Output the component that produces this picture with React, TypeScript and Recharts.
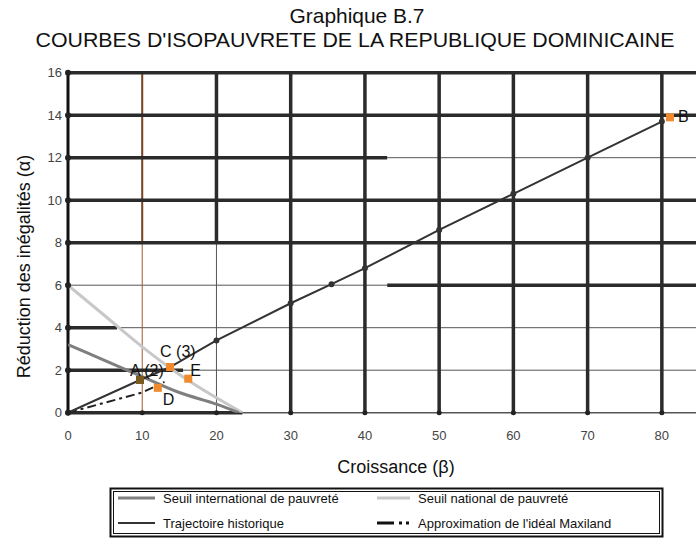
import React from 'react';
import { ComposedChart, Line, Scatter, XAxis, YAxis, ReferenceLine } from 'recharts';

// ---- data ----
const xTicks = [0, 10, 20, 30, 40, 50, 60, 70, 80];
const yTicks = [0, 2, 4, 6, 8, 10, 12, 14, 16];

const intlX = [0, 5, 10, 15, 20, 23];
const intlY = [3.2, 2.45, 1.7, 0.95, 0.4, 0];

const natX = [0, 5, 10, 15, 20, 23.5];
const natY = [6, 4.55, 3.1, 1.8, 0.7, 0];

const histX = [0, 9.7, 13.75, 20, 30, 35.5, 40, 50, 60, 70, 80];
const histY = [0, 1.54, 2.15, 3.4, 5.15, 6.05, 6.8, 8.6, 10.3, 12.0, 13.7];

const maxiX = [0, 10, 13];
const maxiY = [0, 0.95, 1.45];

const pointNames = ['A (2)', 'C (3)', 'D', 'E', 'B'];
const pointX = [9.7, 13.75, 12.1, 16.2, 81.1];
const pointY = [1.54, 2.15, 1.17, 1.6, 13.9];

const seriesNames = [
  'Seuil international de pauvreté',
  'Seuil national de pauvreté',
  'Trajectoire historique',
  "Approximation de l'idéal Maxiland",
];

const titleLines = ['Graphique B.7', "COURBES D'ISOPAUVRETE DE LA REPUBLIQUE DOMINICAINE"];
const xLabel = 'Croissance (β)';
const yLabel = 'Réduction des inégalités (α)';

// ---- build ----
const zip = (xs: number[], ys: number[]) => xs.map((x, i) => ({ x, y: ys[i] }));
const intlData = zip(intlX, intlY);
const natData = zip(natX, natY);
const histData = zip(histX, histY);
const maxiData = zip(maxiX, maxiY);
const pointData = pointNames.map((name, i) => ({ name, x: pointX[i], y: pointY[i] }));

// ---- styles ----
const FONT = '"Liberation Sans", Arial, sans-serif';
const THICK = '#2b2b2b';
const THIN = '#555';
const labelOffset: Record<string, [number, number]> = {
  'A (2)': [-10, -4],
  'C (3)': [-10, -10],
  D: [5, 17],
  E: [2, -3],
  B: [8, 5],
};
const pointColor: Record<string, string> = {
  'A (2)': '#7a5a1e',
  'C (3)': '#f08a2c',
  D: '#f08a2c',
  E: '#f08a2c',
  B: '#f08a2c',
};

const XTick = (props: any) => {
  const { x, y, payload } = props;
  return (
    <g>
      <circle cx={x} cy={y} r={2.5} fill="#222" />
      <text x={x} y={y + 27} textAnchor="middle" fontSize={13} fill="#444" fontFamily={FONT}>
        {payload.value}
      </text>
    </g>
  );
};

const YTick = (props: any) => {
  const { x, y, payload } = props;
  return (
    <g>
      <circle cx={x} cy={y} r={3} fill="#222" />
      <text x={x - 6} y={y + 4.5} textAnchor="end" fontSize={13} fill="#444" fontFamily={FONT}>
        {payload.value}
      </text>
    </g>
  );
};

const PointShape = (props: any) => {
  const { cx, cy, payload } = props;
  const [dx, dy] = labelOffset[payload.name] || [6, 0];
  return (
    <g>
      <rect x={cx - 4} y={cy - 4} width={8} height={8} fill={pointColor[payload.name]} />
      <text x={cx + dx} y={cy + dy} fontSize={16} fill="#111" fontFamily={FONT}>
        {payload.name}
      </text>
    </g>
  );
};

const seg = (x1: number, y1: number, x2: number, y2: number) => [
  { x: x1, y: y1 },
  { x: x2, y: y2 },
];

export default function App() {
  const legendRows = [
    [0, 1],
    [2, 3],
  ];
  const colX = [118, 377];
  const rowY = [498, 523];

  const sample = (idx: number, x: number, y: number) => {
    if (idx === 0) return <line x1={x} y1={y} x2={x + 37} y2={y} stroke="#7f7f7f" strokeWidth={3} />;
    if (idx === 1) return <line x1={x} y1={y} x2={x + 33} y2={y} stroke="#c8c8c8" strokeWidth={3} />;
    if (idx === 2) return <line x1={x} y1={y} x2={x + 37} y2={y} stroke="#333" strokeWidth={2} />;
    return (
      <g>
        <line x1={x} y1={y} x2={x + 17} y2={y} stroke="#111" strokeWidth={3} />
        <rect x={x + 22} y={y - 1.5} width={3} height={3} fill="#111" />
        <rect x={x + 29} y={y - 1.5} width={3} height={3} fill="#111" />
      </g>
    );
  };

  return (
    <div style={{ position: 'absolute', left: 0, top: 0, width: 696, height: 541, background: '#fff' }}>
      <ComposedChart
        width={696}
        height={541}
        margin={{ top: 72.7, right: 0, left: 8, bottom: 98.3 }}
        style={{ position: 'absolute', left: 0, top: 0 }}
      >
        <XAxis
          type="number"
          dataKey="x"
          domain={[0, 84.6]}
          ticks={xTicks}
          allowDataOverflow
          tickSize={0}
          tickMargin={0}
          tick={<XTick />}
          axisLine={false}
          height={30}
        />
        <YAxis
          type="number"
          dataKey="y"
          domain={[0, 16]}
          ticks={yTicks}
          allowDataOverflow
          tickSize={0}
          tickMargin={0}
          tick={<YTick />}
          axisLine={false}
          width={60}
        />

        {/* thin grid */}
        <ReferenceLine segment={seg(6.6, 4, 84.6, 4)} stroke={THIN} strokeWidth={1} />
        <ReferenceLine segment={seg(15.5, 2, 84.6, 2)} stroke={THIN} strokeWidth={1} />
        <ReferenceLine segment={seg(0, 6, 43, 6)} stroke={THIN} strokeWidth={1} />
        <ReferenceLine segment={seg(43, 12, 84.6, 12)} stroke={THIN} strokeWidth={1} />
        <ReferenceLine segment={seg(23.5, 0, 84.6, 0)} stroke={THIN} strokeWidth={1.5} />
        <ReferenceLine segment={seg(20, 0, 20, 8)} stroke={THIN} strokeWidth={1} />
        <ReferenceLine segment={seg(10, 0, 10, 16)} stroke="#9c5a2c" strokeWidth={1} />
        <ReferenceLine segment={seg(10, 8, 10, 16)} stroke="#7a4426" strokeWidth={2} />

        {/* thick grid */}
        <ReferenceLine segment={seg(0, 16, 84.6, 16)} stroke={THICK} strokeWidth={3.5} />
        <ReferenceLine segment={seg(0, 14, 84.6, 14)} stroke={THICK} strokeWidth={3.5} />
        <ReferenceLine segment={seg(0, 12, 43, 12)} stroke={THICK} strokeWidth={3.5} />
        <ReferenceLine segment={seg(0, 10, 84.6, 10)} stroke={THICK} strokeWidth={3.5} />
        <ReferenceLine segment={seg(0, 8, 84.6, 8)} stroke={THICK} strokeWidth={3.5} />
        <ReferenceLine segment={seg(43, 6, 84.6, 6)} stroke={THICK} strokeWidth={3.5} />
        <ReferenceLine segment={seg(0, 4, 6.6, 4)} stroke={THICK} strokeWidth={3.5} />
        <ReferenceLine segment={seg(0, 2, 15.5, 2)} stroke={THICK} strokeWidth={3.5} />
        <ReferenceLine segment={seg(0, 0, 23.5, 0)} stroke={THICK} strokeWidth={3.5} />
        <ReferenceLine segment={seg(20, 8, 20, 16)} stroke={THICK} strokeWidth={3.5} />
        {[30, 40, 50, 60, 70, 80].map((v) => (
          <ReferenceLine key={v} segment={seg(v, 0, v, 16)} stroke={THICK} strokeWidth={3.5} />
        ))}
        <ReferenceLine segment={seg(0, 0, 0, 16)} stroke="#111" strokeWidth={3} />

        <Line data={natData} dataKey="y" type="monotone" stroke="#c8c8c8" strokeWidth={3} dot={false} isAnimationActive={false} />
        <Line data={intlData} dataKey="y" type="monotone" stroke="#7f7f7f" strokeWidth={3} dot={false} isAnimationActive={false} />
        <Line data={maxiData} dataKey="y" type="linear" stroke="#222" strokeWidth={2} strokeDasharray="9 4 3 4" dot={false} isAnimationActive={false} />
        <Line
          data={histData}
          dataKey="y"
          type="linear"
          stroke="#333"
          strokeWidth={2}
          dot={{ r: 2, fill: '#333', stroke: '#333' }}
          isAnimationActive={false}
        />
        <Scatter data={pointData} dataKey="y" shape={<PointShape />} isAnimationActive={false} />
      </ComposedChart>

      <svg
        width={696}
        height={541}
        style={{ position: 'absolute', left: 0, top: 0, pointerEvents: 'none' }}
        fontFamily={FONT}
      >
        <text x={357} y={23} textAnchor="middle" fontSize={21} fill="#111" textLength={135} lengthAdjust="spacingAndGlyphs">
          {titleLines[0]}
        </text>
        <text x={355} y={47} textAnchor="middle" fontSize={21} fill="#111" textLength={639} lengthAdjust="spacingAndGlyphs">
          {titleLines[1]}
        </text>
        <text x={396} y={473} textAnchor="middle" fontSize={18} fill="#111">
          {xLabel}
        </text>
        <text
          x={24}
          y={266.5}
          textAnchor="middle"
          dominantBaseline="central"
          fontSize={18}
          fill="#111"
          transform="rotate(-90 24 266.5)"
        >
          {yLabel}
        </text>

        <rect x={110.5} y={488.5} width={552} height={48} fill="#fff" stroke="#111" strokeWidth={2} />
        <rect x={113.5} y={491.5} width={546} height={42} fill="none" stroke="#111" strokeWidth={1} />
        {legendRows.map((row, ri) =>
          row.map((idx, ci) => (
            <g key={idx}>
              {sample(idx, colX[ci], rowY[ri])}
              <text x={colX[ci] + (ci === 0 ? 45 : 41)} y={rowY[ri] + 5} fontSize={13} fill="#111">
                {seriesNames[idx]}
              </text>
            </g>
          ))
        )}
      </svg>
    </div>
  );
}
